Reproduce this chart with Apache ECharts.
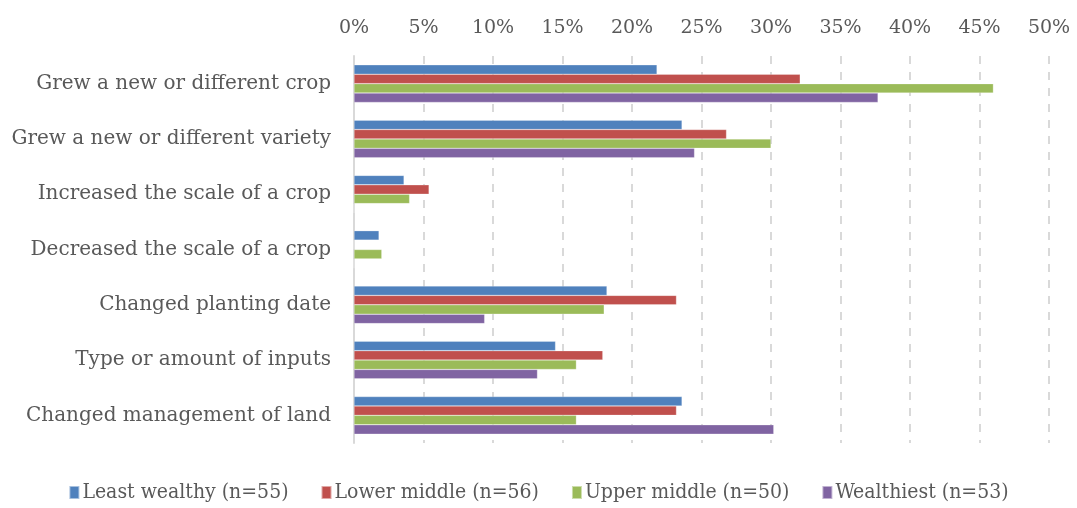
<!DOCTYPE html>
<html>
<head>
<meta charset="utf-8">
<script src="https://cdn.jsdelivr.net/npm/echarts@6/dist/echarts.min.js"></script>
<style>
html, body { margin: 0; padding: 0; background: #fff; }
#chart { width: 1077px; height: 508px; }
</style>
</head>
<body>
<div id="chart"></div>
<script>
var categories = [
  "Grew a new or different crop",
  "Grew a new or different variety",
  "Increased the scale of a crop",
  "Decreased the scale of a crop",
  "Changed planting date",
  "Type or amount of inputs",
  "Changed management of land"
];
var seriesNames = ["Least wealthy (n=55)", "Lower middle (n=56)", "Upper middle (n=50)", "Wealthiest (n=53)"];
var leastWealthy = [21.8, 23.6, 3.6, 1.8, 18.2, 14.5, 23.6];
var lowerMiddle = [32.1, 26.8, 5.4, 0, 23.2, 17.9, 23.2];
var upperMiddle = [46.0, 30.0, 4.0, 2.0, 18.0, 16.0, 16.0];
var wealthiest = [37.7, 24.5, 0, 0, 9.4, 13.2, 30.2];
var colors = ["#4F81BD", "#C0504D", "#9BBB59", "#8064A2"];

var chart = echarts.init(document.getElementById("chart"));
var font = "'DejaVu Serif', serif";
var values = [leastWealthy, lowerMiddle, upperMiddle, wealthiest];
var series = [];
for (var i = 0; i < values.length; i++) {
  series.push({
    name: seriesNames[i],
    type: "bar",
    data: values[i],
    barGap: "0%",
    barCategoryGap: "32%",
    itemStyle: { color: colors[i], borderColor: "rgba(255,255,255,0.5)", borderWidth: 0.5 },
    animation: false
  });
}

var option = {
  textStyle: { fontFamily: font },
  color: colors,
  grid: { left: 354, right: 28, top: 56, bottom: 65, containLabel: false },
  legend: {
    bottom: 0,
    left: "center",
    icon: "rect",
    itemWidth: 10,
    itemHeight: 13,
    itemGap: 32,
    textStyle: { fontFamily: "'DejaVu Serif Condensed', 'DejaVu Serif', serif", fontSize: 21, color: "#595959", padding: [0, 0, 0, -2] },
    data: seriesNames
  },
  xAxis: {
    type: "value",
    position: "top",
    min: 0,
    max: 50,
    interval: 5,
    axisLine: { show: false },
    axisTick: { show: false },
    axisLabel: { formatter: "{value}%", fontSize: 19, color: "#595959", margin: 18, fontFamily: font },
    splitLine: { show: true, lineStyle: { color: "#d9d9d9", type: [8, 8], width: 2 } }
  },
  yAxis: {
    type: "category",
    data: categories,
    inverse: true,
    axisLine: { show: true, lineStyle: { color: "#d9d9d9", width: 2 } },
    axisTick: { show: false },
    axisLabel: { fontSize: 20, color: "#595959", margin: 23, fontFamily: font }
  },
  series: series
};
chart.setOption(option);
</script>
</body>
</html>
